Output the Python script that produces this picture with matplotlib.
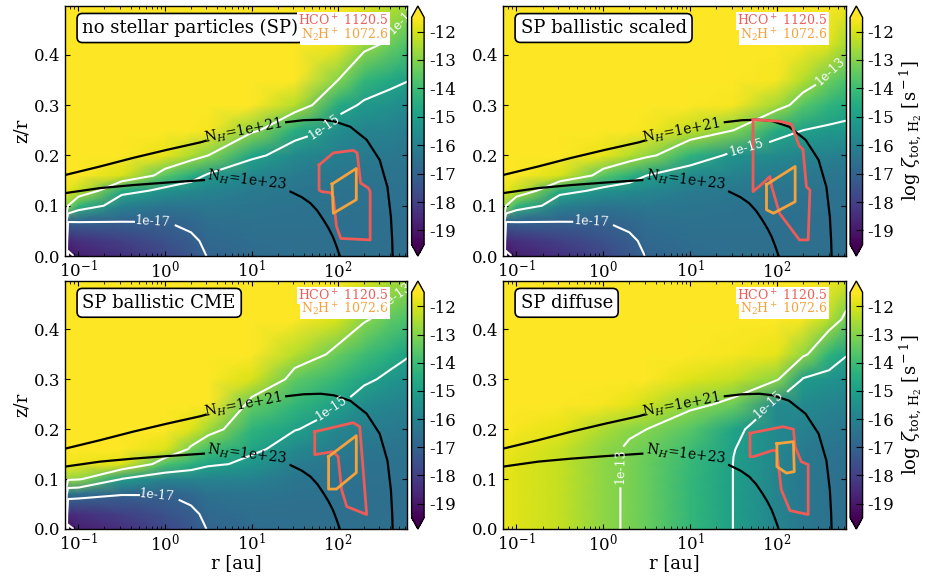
#!/usr/bin/env python3
"""
Ionisation rate maps (log zeta_tot,H2) for four stellar-particle setups,
with N_H column density contours and molecular emission regions.
"""

import numpy as np
import matplotlib
matplotlib.use("Agg")
import matplotlib.pyplot as plt

plt.rcParams.update({
    "font.family": "serif", "font.serif": ["DejaVu Serif"],
    "mathtext.fontset": "dejavuserif", "axes.unicode_minus": False,
    "font.size": 12, "axes.linewidth": 1.0,
    "xtick.direction": "in", "ytick.direction": "in",
    "xtick.top": True, "ytick.right": True,
    "xtick.major.pad": 2.5, "contour.negative_linestyle": "solid",
})

# ─────────────────────────────────────────────────────────────────────────────
# grid nodes of the map: log10(r/au) and z/r
LOGR = [-1.16, -1.12, -1.0, -0.5, 0.0, 0.3, 0.5, 1.0, 1.5, 2.0, 2.3, 2.6, 2.8]
ZR = [0.0, 0.03, 0.07, 0.10, 0.13, 0.16, 0.20, 0.25, 0.30, 0.35, 0.42, 0.50]

# log zeta, one list per LOGR column (bottom -> top along ZR)
ZETA_NOSP = [
    [-12.6, -12.6, -12.6, -12.4, -11.9, -11.5, -11.5, -11.5, -11.5, -11.5, -11.5, -11.5],
    [-19.2, -18.6, -16.9, -13.0, -11.8, -11.5, -11.5, -11.5, -11.5, -11.5, -11.5, -11.5],
    [-18.8, -18.4, -16.9, -14.2, -12.2, -11.5, -11.5, -11.5, -11.5, -11.5, -11.5, -11.5],
    [-18.4, -18.0, -16.95, -16.0, -14.6, -12.0, -11.5, -11.5, -11.5, -11.5, -11.5, -11.5],
    [-17.8, -17.5, -16.97, -16.4, -15.4, -13.6, -11.8, -11.5, -11.5, -11.5, -11.5, -11.5],
    [-17.35, -17.15, -16.8, -16.35, -15.7, -14.5, -12.5, -11.5, -11.5, -11.5, -11.5, -11.5],
    [-16.95, -16.8, -16.6, -16.3, -15.9, -15.2, -13.0, -11.6, -11.5, -11.5, -11.5, -11.5],
    [-16.7, -16.65, -16.5, -16.4, -16.2, -15.8, -14.8, -12.8, -11.5, -11.5, -11.5, -11.5],
    [-16.6, -16.6, -16.5, -16.45, -16.35, -16.2, -15.7, -14.5, -12.4, -11.5, -11.5, -11.5],
    [-16.6, -16.6, -16.55, -16.5, -16.45, -16.35, -16.1, -15.6, -14.6, -13.0, -11.7, -11.5],
    [-16.6, -16.6, -16.6, -16.55, -16.5, -16.45, -16.2, -15.9, -15.2, -14.2, -12.7, -11.8],
    [-16.6, -16.6, -16.6, -16.55, -16.5, -16.45, -16.3, -16.0, -15.5, -14.7, -13.3, -12.3],
    [-16.6, -16.6, -16.6, -16.55, -16.5, -16.45, -16.35, -16.1, -15.7, -14.95, -13.8, -12.7],
]
ZETA_BALL = [
    [-12.6, -12.6, -12.6, -12.4, -11.9, -11.5, -11.5, -11.5, -11.5, -11.5, -11.5, -11.5],
    [-19.2, -18.6, -16.9, -13.0, -11.8, -11.5, -11.5, -11.5, -11.5, -11.5, -11.5, -11.5],
    [-18.8, -18.4, -16.9, -14.2, -12.2, -11.5, -11.5, -11.5, -11.5, -11.5, -11.5, -11.5],
    [-18.4, -18.0, -16.95, -16.0, -14.6, -12.0, -11.5, -11.5, -11.5, -11.5, -11.5, -11.5],
    [-17.8, -17.5, -16.97, -16.4, -15.4, -13.6, -11.8, -11.5, -11.5, -11.5, -11.5, -11.5],
    [-17.35, -17.15, -16.8, -16.35, -15.65, -14.4, -12.4, -11.5, -11.5, -11.5, -11.5, -11.5],
    [-16.95, -16.8, -16.6, -16.3, -15.8, -15.0, -12.8, -11.6, -11.5, -11.5, -11.5, -11.5],
    [-16.7, -16.65, -16.5, -16.4, -16.2, -15.7, -14.3, -12.2, -11.5, -11.5, -11.5, -11.5],
    [-16.6, -16.6, -16.5, -16.45, -16.3, -16.0, -15.4, -13.0, -11.6, -11.5, -11.5, -11.5],
    [-16.6, -16.6, -16.55, -16.5, -16.4, -16.2, -15.7, -14.6, -12.6, -11.6, -11.5, -11.5],
    [-16.6, -16.6, -16.6, -16.55, -16.45, -16.3, -15.9, -15.0, -13.6, -12.4, -11.6, -11.5],
    [-16.6, -16.6, -16.6, -16.55, -16.5, -16.4, -16.0, -15.2, -14.3, -13.3, -11.9, -11.5],
    [-16.6, -16.6, -16.6, -16.55, -16.5, -16.4, -16.1, -15.25, -14.6, -13.8, -12.6, -11.7],
]
ZETA_CME = [
    [-12.6, -12.6, -12.6, -12.4, -11.9, -11.5, -11.5, -11.5, -11.5, -11.5, -11.5, -11.5],
    [-19.2, -18.5, -16.5, -12.8, -11.6, -11.5, -11.5, -11.5, -11.5, -11.5, -11.5, -11.5],
    [-18.8, -18.4, -16.6, -12.9, -11.7, -11.5, -11.5, -11.5, -11.5, -11.5, -11.5, -11.5],
    [-18.4, -18.0, -16.95, -15.05, -11.9, -11.5, -11.5, -11.5, -11.5, -11.5, -11.5, -11.5],
    [-17.8, -17.5, -16.97, -15.9, -13.8, -11.9, -11.5, -11.5, -11.5, -11.5, -11.5, -11.5],
    [-17.35, -17.15, -16.8, -15.9, -14.4, -13.2, -11.9, -11.5, -11.5, -11.5, -11.5, -11.5],
    [-16.95, -16.8, -16.5, -15.9, -14.85, -13.9, -12.6, -11.5, -11.5, -11.5, -11.5, -11.5],
    [-16.7, -16.6, -16.4, -16.0, -15.3, -14.8, -14.3, -13.4, -12.0, -11.5, -11.5, -11.5],
    [-16.6, -16.6, -16.5, -16.35, -16.1, -15.7, -14.95, -14.2, -13.5, -12.4, -11.5, -11.5],
    [-16.6, -16.6, -16.55, -16.5, -16.4, -16.2, -15.8, -15.0, -14.2, -13.4, -12.0, -11.5],
    [-16.6, -16.6, -16.6, -16.55, -16.45, -16.35, -16.1, -15.6, -14.8, -14.0, -12.9, -11.9],
    [-16.6, -16.6, -16.6, -16.55, -16.5, -16.45, -16.2, -15.9, -15.3, -14.5, -13.5, -12.5],
    [-16.6, -16.6, -16.6, -16.55, -16.5, -16.45, -16.3, -16.0, -15.55, -14.9, -13.8, -12.75],
]
ZETA_DIFF = [
    [-11.8, -11.8, -11.8, -11.8, -11.8, -11.7, -11.5, -11.5, -11.5, -11.5, -11.5, -11.5],
    [-11.8, -11.8, -11.8, -11.8, -11.8, -11.7, -11.5, -11.5, -11.5, -11.5, -11.5, -11.5],
    [-11.9, -11.9, -11.9, -11.9, -11.9, -11.8, -11.6, -11.5, -11.5, -11.5, -11.5, -11.5],
    [-12.2, -12.2, -12.2, -12.2, -12.2, -12.15, -11.8, -11.5, -11.5, -11.5, -11.5, -11.5],
    [-12.85, -12.85, -12.85, -12.85, -12.85, -12.85, -12.5, -11.6, -11.5, -11.5, -11.5, -11.5],
    [-13.11, -13.11, -13.11, -13.11, -13.11, -13.1, -12.9, -11.8, -11.5, -11.5, -11.5, -11.5],
    [-13.35, -13.35, -13.35, -13.35, -13.35, -13.3, -13.0, -12.1, -11.5, -11.5, -11.5, -11.5],
    [-14.2, -14.2, -14.2, -14.2, -14.15, -14.0, -13.6, -12.8, -11.9, -11.5, -11.5, -11.5],
    [-15.02, -15.02, -15.02, -15.02, -15.02, -14.98, -14.85, -13.3, -12.2, -11.6, -11.5, -11.5],
    [-15.9, -15.9, -15.9, -15.9, -15.85, -15.8, -15.75, -15.7, -12.9, -11.8, -11.5, -11.5],
    [-16.3, -16.3, -16.3, -16.3, -16.25, -16.2, -16.0, -15.7, -15.1, -12.8, -11.6, -11.5],
    [-16.5, -16.5, -16.5, -16.5, -16.45, -16.4, -16.2, -15.9, -15.4, -14.3, -12.4, -11.6],
    [-16.6, -16.6, -16.6, -16.6, -16.55, -16.5, -16.3, -16.0, -15.6, -14.95, -13.3, -12.0],
]

# N_H column density contours (same disk in all panels), split at the label
NH21_A_LOGR = [-1.155, -0.75, -0.37, 0.02, 0.41, 0.47]
NH21_A_Z = [0.161, 0.178, 0.195, 0.211, 0.226, 0.229]
NH21_B_LOGR = [1.40, 1.60, 1.80, 1.95, 2.14, 2.33, 2.48, 2.57, 2.61, 2.625, 2.63]
NH21_B_Z = [0.266, 0.270, 0.271, 0.268, 0.257, 0.231, 0.191, 0.137, 0.078, 0.030, 0.0]
NH23_A_LOGR = [-1.155, -0.75, -0.37, 0.02, 0.45]
NH23_A_Z = [0.125, 0.135, 0.141, 0.146, 0.151]
NH23_B_LOGR = [1.45, 1.58, 1.68, 1.76, 1.83, 1.89, 1.94, 1.98, 2.02]
NH23_B_Z = [0.128, 0.117, 0.105, 0.090, 0.072, 0.055, 0.038, 0.020, 0.0]

# emission regions: HCO+ (red) and N2H+ (orange) outlines per panel
HCO_NOSP = ([1.78, 1.945, 2.175, 2.22, 2.26, 2.35, 2.37, 2.37, 2.03, 1.98, 1.945, 1.91, 1.81, 1.78, 1.78],
            [0.181, 0.205, 0.21, 0.205, 0.145, 0.135, 0.128, 0.032, 0.035, 0.06, 0.118, 0.126, 0.128, 0.131, 0.181])
N2H_NOSP = ([1.93, 2.21, 2.21, 1.945, 1.93], [0.143, 0.174, 0.112, 0.085, 0.143])
HCO_BALL = ([1.725, 2.03, 2.17, 2.23, 2.26, 2.30, 2.34, 2.38, 2.36, 2.26, 2.03, 1.94, 1.92, 1.82, 1.725, 1.725],
            [0.271, 0.268, 0.262, 0.231, 0.218, 0.212, 0.138, 0.131, 0.032, 0.032, 0.085, 0.138, 0.158, 0.142, 0.128, 0.271])
N2H_BALL = ([1.88, 2.21, 2.21, 1.96, 1.88, 1.88], [0.142, 0.178, 0.108, 0.085, 0.092, 0.142])
HCO_CME = ([1.73, 2.175, 2.25, 2.33, 2.10, 2.04, 2.00, 1.94, 1.73, 1.73],
           [0.195, 0.213, 0.205, 0.029, 0.045, 0.079, 0.145, 0.155, 0.149, 0.195])
N2H_CME = ([1.89, 2.21, 2.21, 1.98, 1.89, 1.89], [0.145, 0.187, 0.113, 0.08, 0.08, 0.145])
HCO_DIFF = ([1.69, 2.07, 2.19, 2.21, 2.28, 2.36, 2.36, 2.15, 2.05, 2.00, 1.96, 1.73, 1.69, 1.69],
            [0.192, 0.205, 0.20, 0.165, 0.135, 0.129, 0.029, 0.037, 0.079, 0.155, 0.158, 0.145, 0.145, 0.192])
N2H_DIFF = ([2.0, 2.19, 2.2, 2.11, 2.0, 2.0], [0.171, 0.175, 0.115, 0.112, 0.125, 0.171])

# where the white contour labels sit (r [au], z/r)
LABELS_NOSP = [(0.72, 0.068), (62, 0.265), (560, 0.47)]
LABELS_BALL = [(0.72, 0.068), (45, 0.215), (400, 0.37)]
LABELS_CME = [(0.8, 0.067), (80, 0.245), (470, 0.465)]
LABELS_DIFF = [(1.58, 0.125), (70, 0.262)]

TITLES = ["no stellar particles (SP)", "SP ballistic scaled", "SP ballistic CME", "SP diffuse"]
ZETA_LEVELS = [-17, -15, -13]
ZETA_FMT = {-17: "1e-17", -15: "1e-15", -13: "1e-13"}
CBAR_TICKS = [-19, -18, -17, -16, -15, -14, -13, -12]
VMIN, VMAX = -19.5, -11.5
RED, ORANGE = "#ef5b56", "#f5a23c"
# ─────────────────────────────────────────────────────────────────────────────


def draw_panel(ax, cax, zeta, title, hco, n2h, labels, cbar_label):
    # scale and limits first: clabel works in screen space
    ax.set_xscale("log")
    ax.set_xlim(0.07, 625)
    ax.set_ylim(0, 0.497)
    ax.set_yticks([0.0, 0.1, 0.2, 0.3, 0.4])

    R, Z = np.meshgrid(10 ** np.array(LOGR), ZR)
    C = np.array(zeta).T
    mesh = ax.pcolormesh(R, Z, C, shading="gouraud", cmap="viridis",
                         vmin=VMIN, vmax=VMAX, rasterized=True)
    # unlabelled level in the inner corner
    if C.min() < -19:
        ax.contour(R, Z, C, levels=[-19], colors="white", linewidths=1.5)
    cs = ax.contour(R, Z, C, levels=ZETA_LEVELS, colors="white", linewidths=1.5)
    ax.clabel(cs, manual=labels, fmt=ZETA_FMT, fontsize=9, inline=True, inline_spacing=3)

    for lr, z in [(NH21_A_LOGR, NH21_A_Z), (NH21_B_LOGR, NH21_B_Z),
                  (NH23_A_LOGR, NH23_A_Z), (NH23_B_LOGR, NH23_B_Z)]:
        ax.plot(10 ** np.array(lr), z, color="k", lw=1.6)
    ax.text(10 ** 0.90, 0.249, r"N$_H$=1e+21", rotation=11, ha="center", va="center",
            rotation_mode="anchor", fontsize=10)
    ax.text(10 ** 0.95, 0.150, r"N$_H$=1e+23", rotation=-7, ha="center", va="center",
            rotation_mode="anchor", fontsize=10)

    ax.plot(10 ** np.array(hco[0]), hco[1], color=RED, lw=2)
    ax.plot(10 ** np.array(n2h[0]), n2h[1], color=ORANGE, lw=2)

    ax.text(0.051, 0.912, title, transform=ax.transAxes, fontsize=13, ha="left", va="center",
            bbox=dict(boxstyle="round,pad=0.3", fc="white", ec="black", lw=1.2))
    ax.text(0.947, 0.94, r"HCO$^+$ 1120.5", transform=ax.transAxes, color=RED, fontsize=9,
            ha="right", va="center", bbox=dict(fc="white", ec="none", pad=0.6))
    ax.text(0.947, 0.884, r"N$_2$H$^+$ 1072.6", transform=ax.transAxes, color=ORANGE, fontsize=9,
            ha="right", va="center", bbox=dict(fc="white", ec="none", pad=0.6))

    cb = plt.colorbar(mesh, cax=cax, extend="both", ticks=CBAR_TICKS)
    cb.ax.tick_params(direction="in", length=5)
    if cbar_label:
        cb.set_label(r"log $\zeta_{\rm tot,\,H_2}$ [s$^{\rm -1}$]", fontsize=13, labelpad=2)


def main() -> None:
    fig = plt.figure(figsize=(9.25, 5.77), dpi=100)

    pos = [
        [0.0703, 0.5563, 0.3697, 0.4333],
        [0.5438, 0.5563, 0.3708, 0.4333],
        [0.0703, 0.0832, 0.3697, 0.4298],
        [0.5438, 0.0832, 0.3708, 0.4298],
    ]
    cpos = [
        [0.445, 0.5563, 0.0135, 0.4333],
        [0.919, 0.5563, 0.0135, 0.4333],
        [0.445, 0.0832, 0.0135, 0.4298],
        [0.919, 0.0832, 0.0135, 0.4298],
    ]
    panels = [
        (ZETA_NOSP, HCO_NOSP, N2H_NOSP, LABELS_NOSP),
        (ZETA_BALL, HCO_BALL, N2H_BALL, LABELS_BALL),
        (ZETA_CME, HCO_CME, N2H_CME, LABELS_CME),
        (ZETA_DIFF, HCO_DIFF, N2H_DIFF, LABELS_DIFF),
    ]
    for i, (zeta, hco, n2h, labels) in enumerate(panels):
        ax = fig.add_axes(pos[i])
        cax = fig.add_axes(cpos[i])
        draw_panel(ax, cax, zeta, TITLES[i], hco, n2h, labels, cbar_label=(i % 2 == 1))
        if i % 2 == 0:
            ax.set_ylabel("z/r", fontsize=13, labelpad=2)
        if i >= 2:
            ax.set_xlabel("r [au]", fontsize=13, labelpad=0)

    fig.savefig("out.png", dpi=100)
    plt.close(fig)


if __name__ == "__main__":
    main()
